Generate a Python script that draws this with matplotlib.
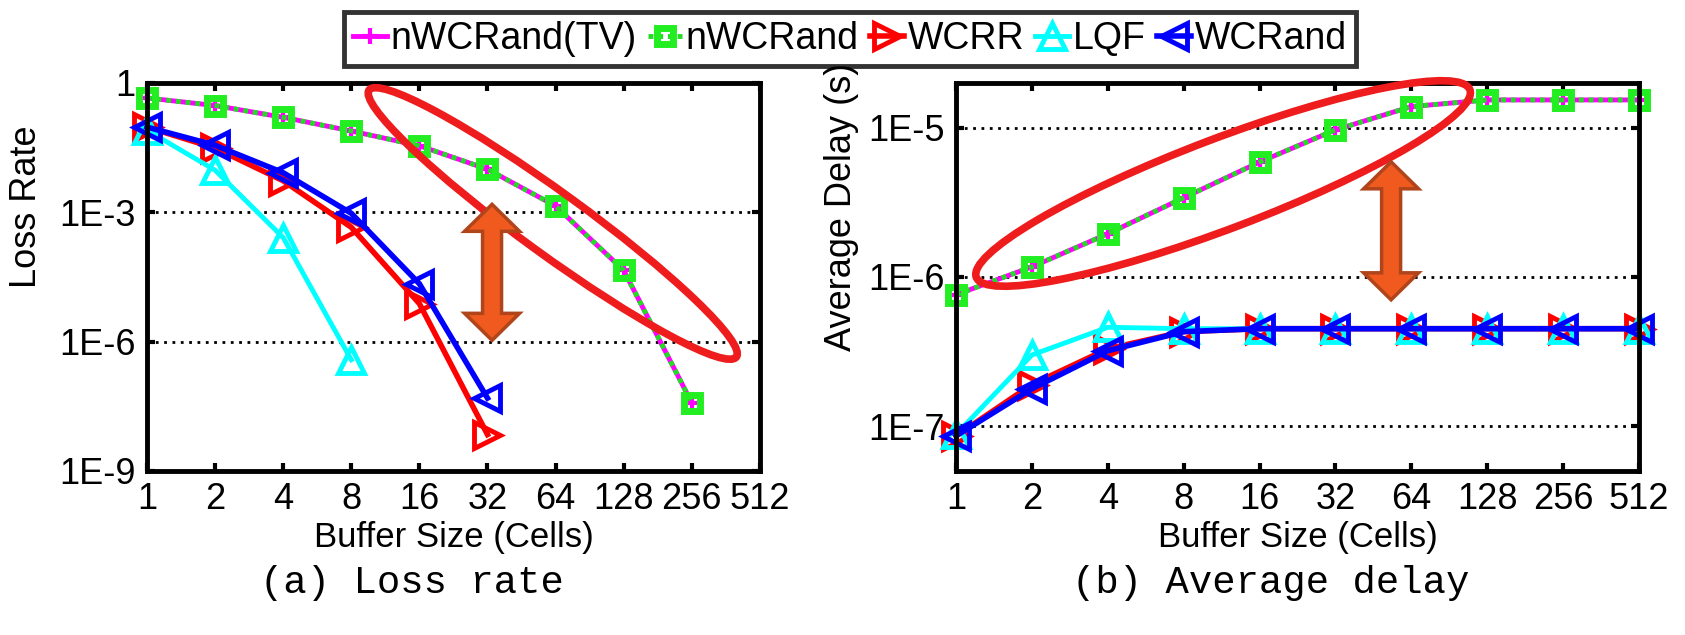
import numpy as np
import matplotlib
matplotlib.use('Agg')

import matplotlib.pyplot as plt
from matplotlib.patches import Ellipse, Polygon
from matplotlib.transforms import ScaledTranslation

plt.rcParams['font.family'] = ['Liberation Sans', 'DejaVu Sans']

buffer_sizes = [1, 2, 4, 8, 16, 32, 64, 128, 256, 512]
size_labels = ['1', '2', '4', '8', '16', '32', '64', '128', '256', '512']

# (a) loss rate
loss_nwcrand = [0.45, 0.30, 0.16, 0.077, 0.035, 0.010, 1.4e-3, 4.5e-5, 3.8e-8]
loss_wcrr = [0.095, 0.031, 5.4e-3, 4.5e-4, 7.6e-6, 7e-9]
loss_lqf = [0.08, 0.0095, 2.6e-4, 3.8e-7]
loss_wcrand = [0.095, 0.036, 8.3e-3, 9.5e-4, 2.2e-5, 4.9e-8]

# (b) average delay in seconds
delay_nwcrand = [7.6e-7, 1.17e-6, 1.95e-6, 3.4e-6, 5.9e-6, 9.7e-6, 1.39e-5, 1.54e-5, 1.54e-5, 1.54e-5]
delay_wcrr = [8.6e-8, 1.9e-7, 3.3e-7, 4.3e-7, 4.5e-7, 4.5e-7, 4.5e-7, 4.5e-7, 4.5e-7, 4.5e-7]
delay_lqf = [8.8e-8, 3.0e-7, 4.6e-7, 4.5e-7, 4.5e-7, 4.5e-7, 4.5e-7, 4.5e-7, 4.5e-7, 4.5e-7]
delay_wcrand = [8.6e-8, 1.78e-7, 3.2e-7, 4.3e-7, 4.5e-7, 4.5e-7, 4.5e-7, 4.5e-7, 4.5e-7, 4.5e-7]

loss_ticks = [1e-9, 1e-6, 1e-3, 1]
loss_tick_labels = ['1E-9', '1E-6', '1E-3', '1']
delay_ticks = [1e-7, 1e-6, 1e-5]
delay_tick_labels = ['1E-7', '1E-6', '1E-5']

series_names = ['nWCRand(TV)', 'nWCRand', 'WCRR', 'LQF', 'WCRand']

FS = 26
RED = '#ee1c1c'
ARROW_FILL = '#f05a1e'
ARROW_EDGE = '#b0441a'


def draw_series(ax, nw, wcrr, lqf, wcrand):
    n = len(nw)
    ax.plot(buffer_sizes[:n], nw, color='magenta', lw=3.5, marker='+', ms=12,
            mew=3, clip_on=False, label=series_names[0])
    ax.plot(buffer_sizes[:n], nw, color='#22dd22', lw=3.5, ls=(0, (1, 1)),
            marker='s', ms=12, mew=5, mfc='none', mec='#22ee22',
            clip_on=False, label=series_names[1])
    ax.plot(buffer_sizes[:len(wcrr)], wcrr, color='red', lw=4, marker='>',
            ms=19, mew=3.5, mfc='none', clip_on=False, label=series_names[2])
    ax.plot(buffer_sizes[:len(lqf)], lqf, color='cyan', lw=3.5, marker='^',
            ms=19, mew=3.5, mfc='none', clip_on=False, label=series_names[3])
    ax.plot(buffer_sizes[:len(wcrand)], wcrand, color='blue', lw=4,
            marker='<', ms=19, mew=3.5, mfc='none', clip_on=False,
            label=series_names[4])


def style_axes(ax, ticks, tick_labels, ylim):
    ax.set_xscale('log', base=2)
    ax.set_yscale('log')
    ax.set_xlim(1, 512)
    ax.set_ylim(*ylim)
    ax.set_xticks(buffer_sizes)
    ax.set_xticklabels(size_labels)
    ax.set_yticks(ticks)
    ax.set_yticklabels(tick_labels)
    ax.minorticks_off()
    ax.tick_params(direction='in', top=True, right=True, length=6, width=3,
                   labelsize=FS, pad=8)
    ax.yaxis.grid(True, color='black', ls=(0, (1, 2)), lw=2)
    for sp in ax.spines.values():
        sp.set_linewidth(3.5)
    ax.set_xlabel('Buffer Size (Cells)', fontsize=25, labelpad=3)


def ellipse(fig, ax, cx, cy, w, h, angle):
    tr = fig.dpi_scale_trans + ScaledTranslation(cx, cy, ax.transAxes)
    ax.add_patch(Ellipse((0, 0), w, h, angle=angle, fill=False, ec=RED,
                         lw=5.5, transform=tr, clip_on=False, zorder=5))


def double_arrow(fig, ax, cx, cy, length, shaft=0.095, head=0.275, head_len=0.27):
    tr = fig.dpi_scale_trans + ScaledTranslation(cx, cy, ax.transAxes)
    half = length / 2
    pts = [(0, half), (head, half - head_len), (shaft, half - head_len),
           (shaft, -half + head_len), (head, -half + head_len), (0, -half),
           (-head, -half + head_len), (-shaft, -half + head_len),
           (-shaft, half - head_len), (-head, half - head_len)]
    ax.add_patch(Polygon(pts, closed=True, fc=ARROW_FILL, ec=ARROW_EDGE,
                         lw=2.5, transform=tr, clip_on=False, zorder=6))


fig = plt.figure(figsize=(16.85, 6.35), dpi=100)
ax1 = fig.add_axes([0.0872, 0.2583, 0.3638, 0.611])
ax2 = fig.add_axes([0.5674, 0.2583, 0.4053, 0.611])

draw_series(ax1, loss_nwcrand, loss_wcrr, loss_lqf, loss_wcrand)
style_axes(ax1, loss_ticks, loss_tick_labels, (1e-9, 1))
ax1.set_ylabel('Loss Rate', fontsize=26)
ax1.yaxis.set_label_coords(-0.168, 0.68)

draw_series(ax2, delay_nwcrand, delay_wcrr, delay_lqf, delay_wcrand)
style_axes(ax2, delay_ticks, delay_tick_labels, (5e-8, 2e-5))
ax2.set_ylabel('Average Delay (s)', fontsize=26)
ax2.yaxis.set_label_coords(-0.142, 0.68)

# highlight ellipses and gap arrows
ellipse(fig, ax1, 0.662, 0.638, 4.54, 0.62, -36.0)
double_arrow(fig, ax1, 0.563, 0.512, 1.36)
ellipse(fig, ax2, 0.391, 0.741, 5.28, 0.90, 20.8)
double_arrow(fig, ax2, 0.637, 0.619, 1.38)

handles, labels = ax1.get_legend_handles_labels()
leg = fig.legend(handles, labels, loc='center', bbox_to_anchor=(0.5045, 0.9386),
                 ncol=5, fontsize=27, handlelength=0.9, handletextpad=0.1,
                 columnspacing=0.3, borderpad=0.25, fancybox=False,
                 frameon=True, edgecolor='black')
leg.get_frame().set_linewidth(3.5)

fig.text(0.2445, 0.082, '(a) Loss rate', fontsize=28,
         family=['Liberation Mono', 'DejaVu Sans Mono'], ha='center', va='center')
fig.text(0.754, 0.082, '(b) Average delay', fontsize=28,
         family=['Liberation Mono', 'DejaVu Sans Mono'], ha='center', va='center')

fig.savefig('out.png', dpi=100, facecolor='white')
